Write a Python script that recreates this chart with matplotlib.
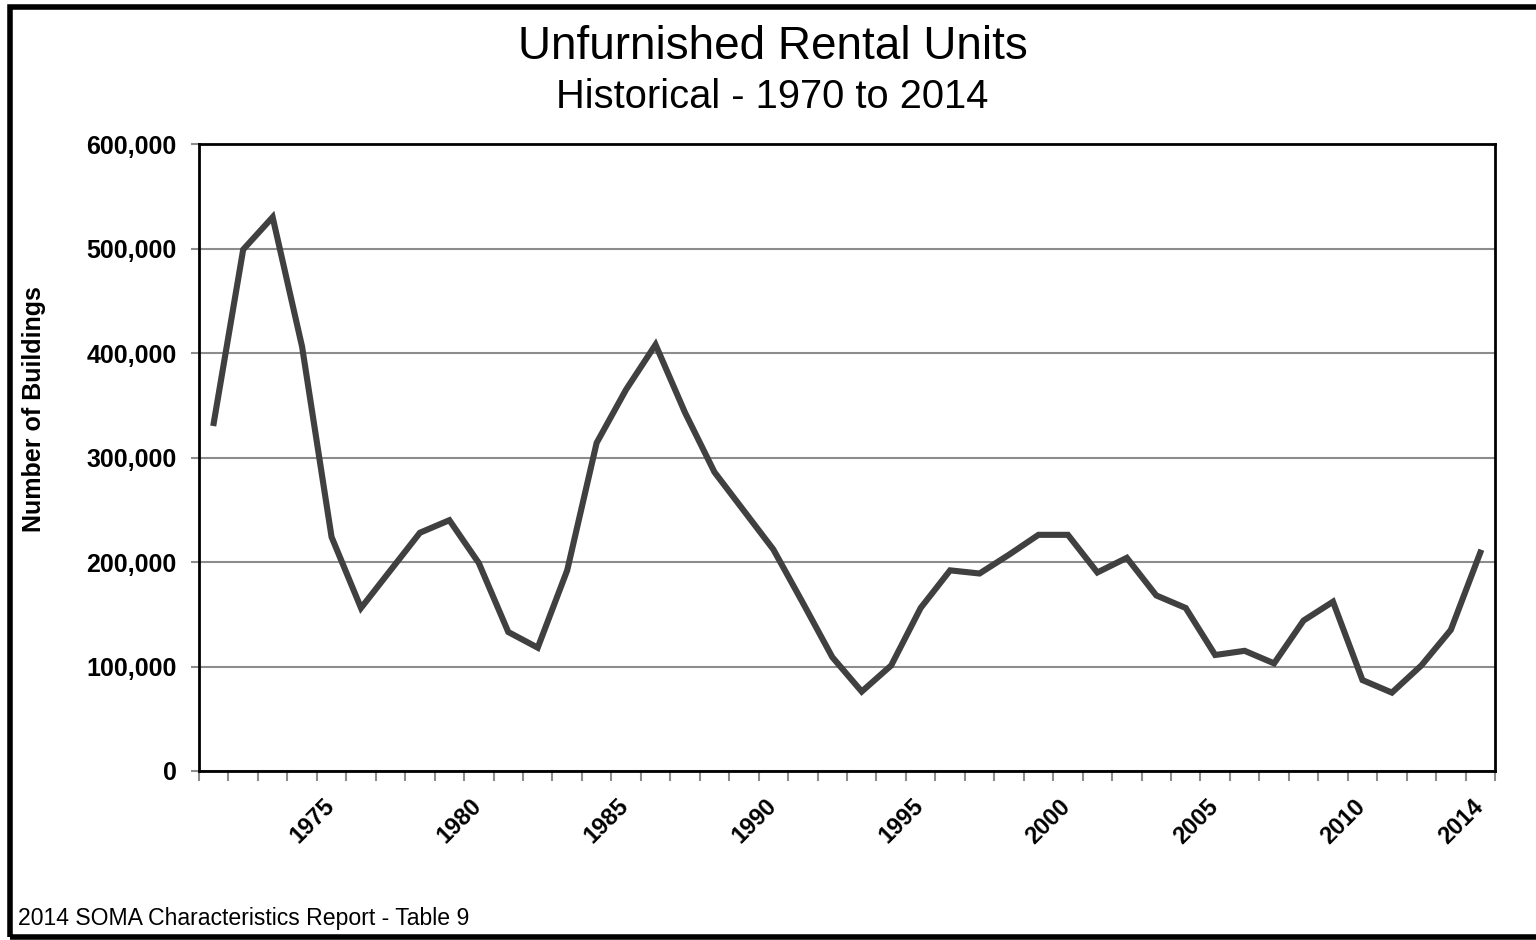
import matplotlib.pyplot as plt
from matplotlib.patches import Rectangle
from matplotlib.ticker import FuncFormatter, FixedLocator

years = list(range(1971, 2015))
units = [333000, 499000, 530000, 406000, 224000, 156000, 192000, 228000, 240000, 199000,
         133000, 118000, 192000, 314000, 365000, 408000, 343000, 286000, 249000, 212000,
         161000, 109000, 76000, 101000, 156000, 192000, 189000, 207000, 226000, 226000,
         190000, 204000, 168000, 156000, 111000, 115000, 103000, 144000, 162000, 87000,
         75000, 101000, 135000, 209000]
label_years = [1975, 1980, 1985, 1990, 1995, 2000, 2005, 2010, 2014]

plt.rcParams['font.family'] = ['Liberation Sans', 'DejaVu Sans']

fig = plt.figure(figsize=(15.36, 9.4), dpi=100)
ax = fig.add_axes([199/1536, 1 - 771/940, (1495 - 199)/1536, (771 - 144)/940])

x = list(range(len(years)))
ax.plot(x, units, color='#404040', linewidth=4.4, solid_joinstyle='miter', zorder=3)

ax.set_xlim(-0.5, len(years) - 0.5)
ax.set_ylim(0, 600000)
ax.set_yticks(range(0, 600001, 100000))
ax.yaxis.set_major_formatter(FuncFormatter(lambda v, p: f'{int(v):,}'))
ax.grid(axis='y', color='#8c8c8c', linewidth=1.5, zorder=1)

# tick marks sit between the yearly categories; the (invisible) major ticks
# carrying the rotated labels are nudged a bit left so the text ends under the point
ax.xaxis.set_minor_locator(FixedLocator([i - 0.5 for i in range(len(years) + 1)]))
ax.set_xticks([years.index(y) - 0.3 for y in label_years])
ax.set_xticklabels([str(y) for y in label_years], rotation=45, ha='right',
                   rotation_mode='anchor', fontsize=17, fontweight='bold')
ax.tick_params(axis='x', which='major', length=0, pad=17)
ax.tick_params(axis='x', which='minor', length=7, width=1.5, color='#8c8c8c')
ax.tick_params(axis='y', length=6, width=1.5, color='#8c8c8c', pad=10)
for lab in ax.get_yticklabels():
    lab.set_fontsize(18)
    lab.set_fontweight('bold')

for s in ax.spines.values():
    s.set_color('black')
    s.set_linewidth(2)

ax.set_ylabel('Number of Buildings', fontsize=18, fontweight='bold')
ax.yaxis.set_label_coords(-0.118, 0.578)

fig.text(0.503, 1 - 47/940, 'Unfurnished Rental Units', ha='center', va='center', fontsize=33)
fig.text(0.503, 1 - 97/940, 'Historical - 1970 to 2014', ha='center', va='center', fontsize=28.7)
fig.text(18/1536, 1 - 918/940, '2014 SOMA Characteristics Report - Table 9',
         ha='left', va='center', fontsize=16.6)

fig.patches.append(Rectangle((10/1536, 3/940), 1.1, 930/940, transform=fig.transFigure,
                             fill=False, edgecolor='black', linewidth=4))

fig.savefig('out.png', dpi=100)
